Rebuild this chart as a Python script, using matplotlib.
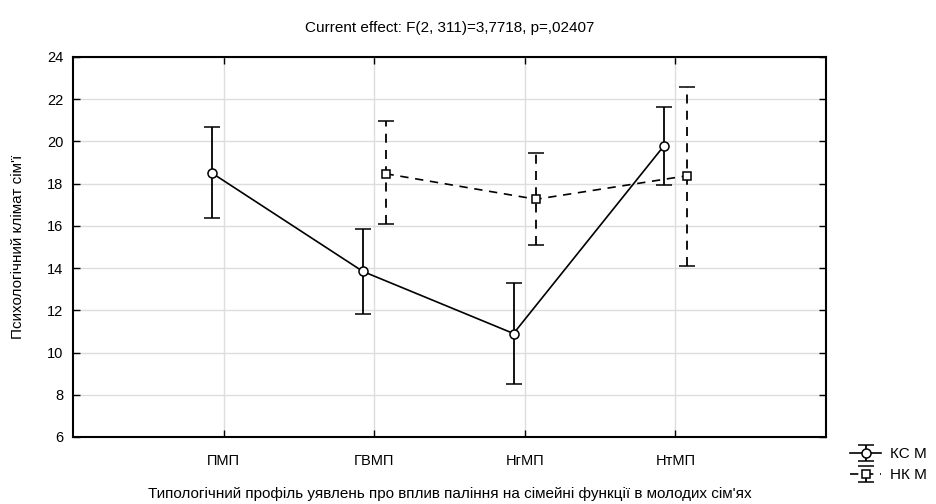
import matplotlib.pyplot as plt
import numpy as np

plt.rcParams['font.family'] = ['Liberation Sans', 'DejaVu Sans']

# category labels along the x axis
categories = ['ПМП', 'ГВМП', 'НгМП', 'НтМП']

# group "КС М": means and confidence limits
ks_mean = [18.49, 13.84, 10.90, 19.80]
ks_low = [16.38, 11.81, 8.52, 17.93]
ks_high = [20.67, 15.86, 13.30, 21.62]

# group "НК М": no value for the first category
nk_mean = [np.nan, 18.47, 17.26, 18.37]
nk_low = [np.nan, 16.07, 15.09, 14.09]
nk_high = [np.nan, 20.98, 19.47, 22.56]

title = 'Current effect: F(2, 311)=3,7718, p=,02407'
ylabel = "Психологічний клімат сім'ї"
xlabel = "Типологічний профіль уявлень про вплив паління на сімейні функції в молодих сім'ях"

fig = plt.figure(figsize=(9.36, 5.04), dpi=100)
ax = fig.add_axes([0.078, 0.133, 0.8045, 0.754])

x = np.arange(1, len(categories) + 1)
shift = 0.075

ks_mean = np.array(ks_mean)
nk_mean = np.array(nk_mean)
ks_err = [ks_mean - np.array(ks_low), np.array(ks_high) - ks_mean]
nk_err = [nk_mean - np.array(nk_low), np.array(nk_high) - nk_mean]

h1 = ax.errorbar(x - shift, ks_mean, yerr=ks_err, color='black', lw=1.2,
                 marker='o', ms=6.5, mfc='white', mec='black', mew=1.1,
                 capsize=6, capthick=1.3, elinewidth=1.3, label='КС М')
h2 = ax.errorbar(x[1:] + shift, nk_mean[1:], yerr=[e[1:] for e in nk_err],
                 color='black', lw=1.2, ls=(0, (5, 4)),
                 marker='s', ms=5.5, mfc='white', mec='black', mew=1.1,
                 capsize=6, capthick=1.3, elinewidth=1.3, label='НК М')
h2[2][0].set_linestyle((0, (5, 4)))

ax.set_xlim(0, 5)
ax.set_ylim(6, 24)
ax.set_xticks(x)
ax.set_xticklabels(categories)
ax.set_yticks(np.arange(6, 25, 2))
ax.grid(True, color='#dddddd', lw=1)
ax.set_axisbelow(True)
ax.tick_params(direction='in', top=True, right=True, length=5, width=1,
               labelsize=10.5, pad=12)
ax.tick_params(axis='y', labelsize=10.5, pad=7)
for s in ax.spines.values():
    s.set_linewidth(1.5)

ax.set_title(title, fontsize=11, pad=18)
ax.set_ylabel(ylabel, fontsize=11, labelpad=16)
ax.set_xlabel(xlabel, fontsize=11, labelpad=14)

fig.legend(handles=[h1, h2], loc='lower right', bbox_to_anchor=(1.0, 0.025),
           frameon=False, fontsize=11, handlelength=2.0, handletextpad=0.6,
           labelspacing=0.45, borderaxespad=0.2)

fig.savefig('out.png', dpi=100)
